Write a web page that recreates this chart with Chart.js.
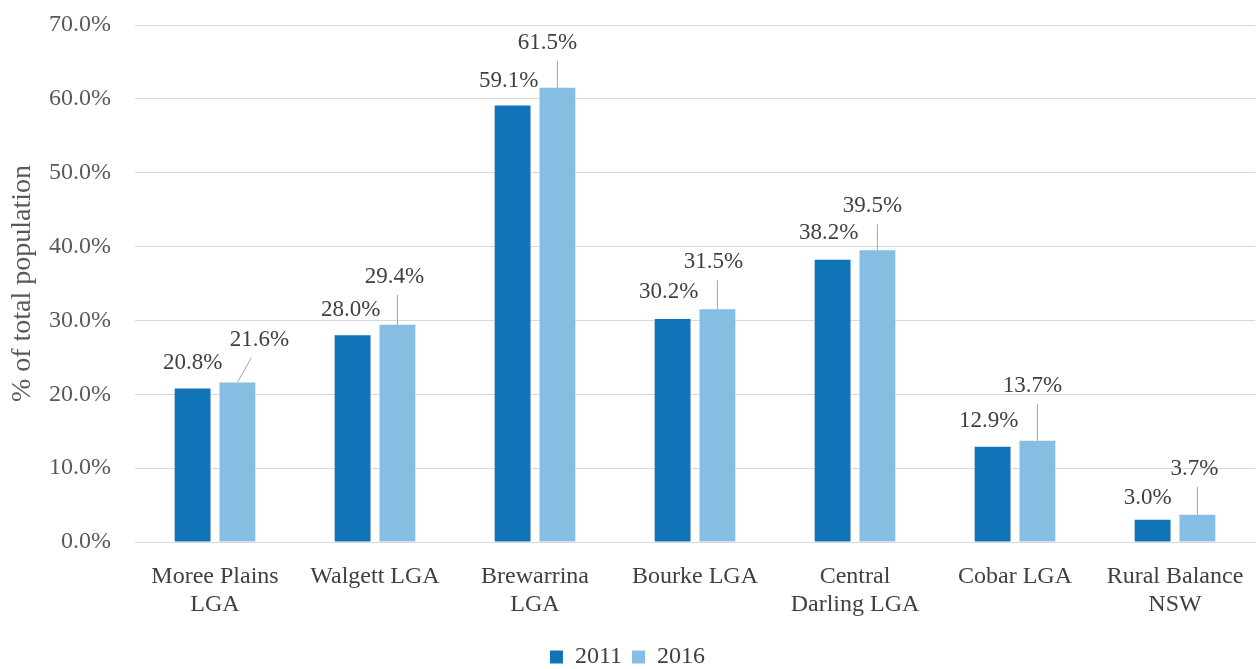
<!DOCTYPE html>
<html>
<head>
<meta charset="utf-8">
<script src="https://cdn.jsdelivr.net/npm/chart.js@4"></script>
<style>
  html, body { margin: 0; padding: 0; background: #fff; }
  #wrap { width: 1256px; height: 669px; position: relative; }
</style>
</head>
<body>
<div id="wrap"><canvas id="myChart"></canvas></div>
<script>
// categories and values
const categories = [
  ['Moree Plains', 'LGA'],
  'Walgett LGA',
  ['Brewarrina', 'LGA'],
  'Bourke LGA',
  ['Central', 'Darling LGA'],
  'Cobar LGA',
  ['Rural Balance', 'NSW']
];
const values2011 = [20.8, 28.0, 59.1, 30.2, 38.2, 12.9, 3.0];
const values2016 = [21.6, 29.4, 61.5, 31.5, 39.5, 13.7, 3.7];
const seriesNames = ['2011', '2016'];
const yTicks = [0, 10, 20, 30, 40, 50, 60, 70];

const FONT = 'Liberation Serif';
const darkBlue = '#1174B8';
const lightBlue = '#86BDE2';
const clear = 'rgba(0,0,0,0)';

// label nudges (px) relative to the bar top, per series
const shift2011 = [[0, -25], [-2, -25], [-4, -25], [-4, -27], [-4, -27], [-4, -26], [-5, -22]];
const shift2016 = [[22, -43], [-3, -48], [-10, -45], [-4, -47], [-5, -44], [-5, -55], [-3, -46]];

const barLabels = {
  id: 'barLabels',
  afterDatasetsDraw(chart) {
    const c = chart.ctx;
    c.save();
    c.font = '23px "' + FONT + '"';
    c.textAlign = 'center';
    c.textBaseline = 'middle';
    chart.data.datasets.forEach((ds, di) => {
      const meta = chart.getDatasetMeta(di);
      const shifts = di === 0 ? shift2011 : shift2016;
      meta.data.forEach((bar, i) => {
        const lx = bar.x + shifts[i][0];
        const ly = bar.y + shifts[i][1];
        if (di === 1) {
          const ex = Math.abs(shifts[i][0]) > 12 ? lx - 8 : bar.x;
          c.beginPath();
          c.strokeStyle = '#a6a6a6';
          c.lineWidth = 1;
          c.moveTo(bar.x, bar.y);
          c.lineTo(ex, ly + 18);
          c.stroke();
        }
        c.fillStyle = '#404040';
        c.fillText(ds.data[i].toFixed(1) + '%', lx, ly);
      });
    });
    c.restore();
  }
};

const ctx = document.getElementById('myChart');
new Chart(ctx, {
  type: 'bar',
  data: {
    labels: categories,
    datasets: [
      { label: seriesNames[0], data: values2011, backgroundColor: darkBlue },
      { label: seriesNames[1], data: values2016, backgroundColor: lightBlue }
    ]
  },
  options: {
    responsive: true,
    maintainAspectRatio: false,
    animation: false,
    datasets: { bar: { categoryPercentage: 0.56, barPercentage: 0.8 } },
    layout: { padding: { top: 25, right: 1, left: 0, bottom: -10 } },
    scales: {
      x: {
        grid: { display: false, drawTicks: true, tickLength: 20, tickColor: clear },
        border: { display: true, color: '#d9d9d9', width: 1 },
        ticks: {
          color: '#404040',
          padding: 0,
          maxRotation: 0,
          autoSkip: false,
          font: { family: FONT, size: 24, lineHeight: 1.2 }
        },
        afterFit(scale) { scale.height = 93; }
      },
      y: {
        min: 0,
        max: 70,
        afterBuildTicks(scale) { scale.ticks = yTicks.map(v => ({ value: v })); },
        grid: { color: '#d9d9d9', drawTicks: true, tickLength: 24, tickColor: clear },
        border: { display: false },
        ticks: {
          color: '#595959',
          padding: 0,
          font: { family: FONT, size: 24 },
          callback: v => v.toFixed(1) + '%'
        },
        title: {
          display: true,
          text: '% of total population',
          color: '#595959',
          font: { family: FONT, size: 28 },
          padding: { top: 6, bottom: 0 }
        },
        afterFit(scale) { scale.width = 135; }
      }
    },
    plugins: {
      legend: {
        position: 'bottom',
        labels: {
          color: '#404040',
          boxWidth: 13,
          boxHeight: 13,
          padding: 10,
          font: { family: FONT, size: 24, lineHeight: 1.0 }
        }
      },
      tooltip: { enabled: false }
    }
  },
  plugins: [barLabels]
});
</script>
</body>
</html>
